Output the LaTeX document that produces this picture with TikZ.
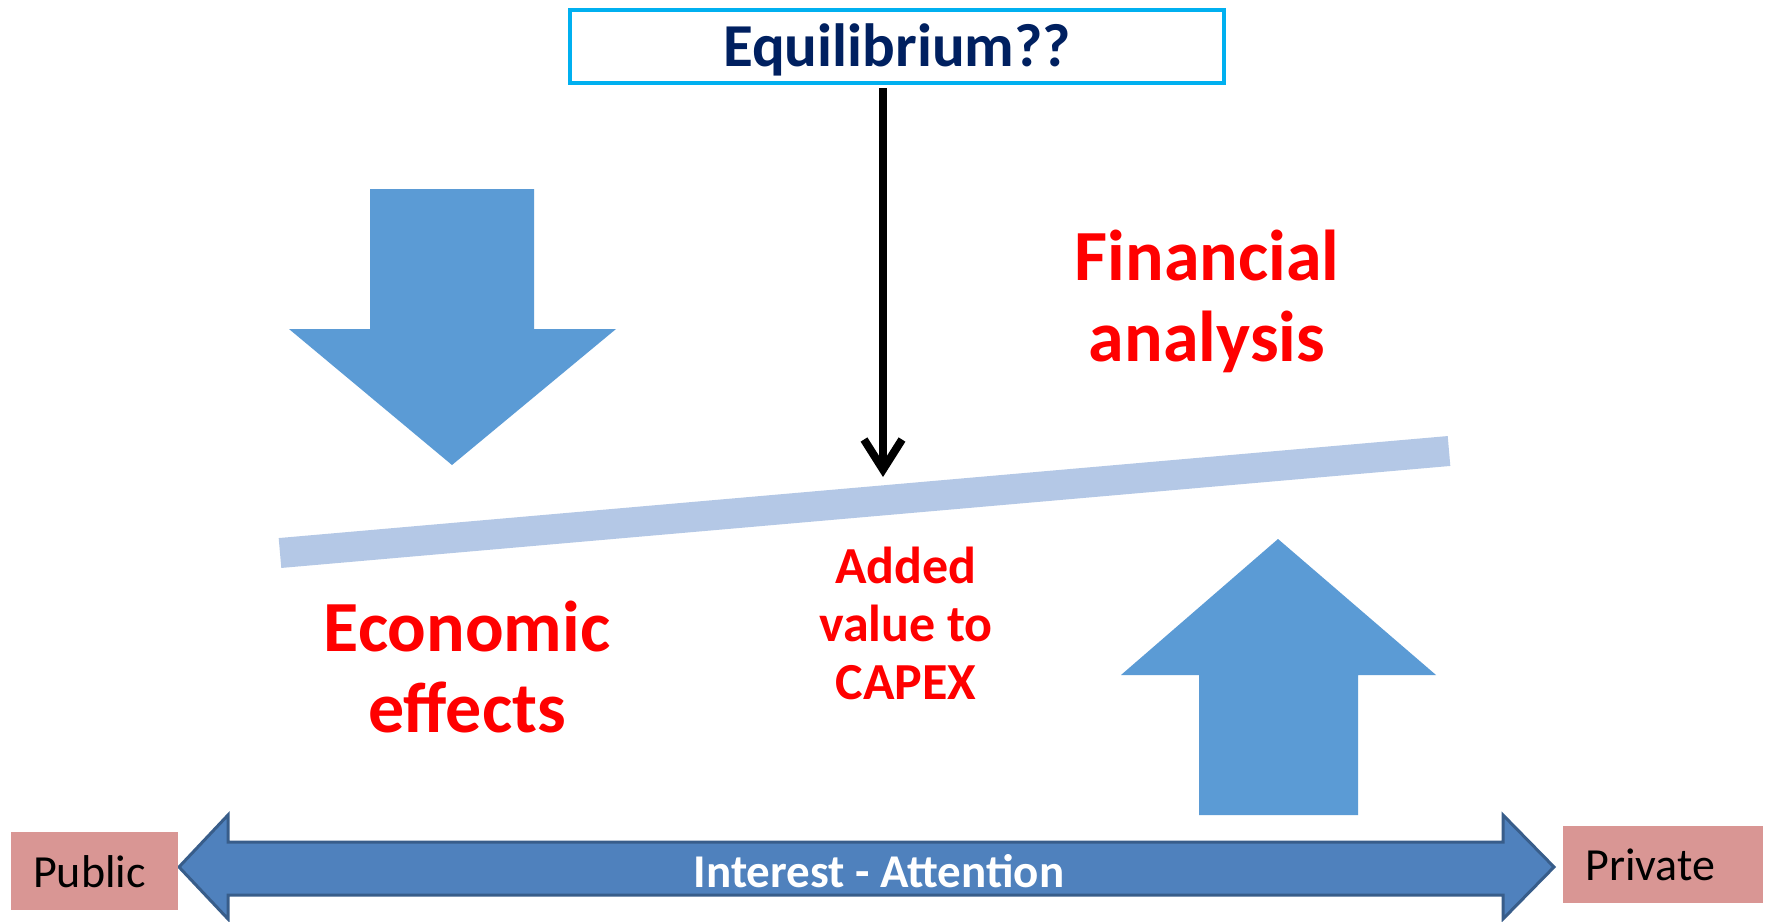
\documentclass[tikz,border=0pt]{standalone}
\usepackage{fontspec}
\setmainfont{Carlito}
\usetikzlibrary{arrows.meta}
\definecolor{blockblue}{HTML}{5B9BD5}
\definecolor{beamblue}{HTML}{B4C8E6}
\definecolor{barfill}{HTML}{4F81BD}
\definecolor{barline}{HTML}{385D8A}
\definecolor{sidepink}{HTML}{D99694}
\definecolor{eqcyan}{HTML}{00B0F0}
\definecolor{eqnavy}{HTML}{002060}
\definecolor{redtext}{HTML}{FF0000}
\tikzset{
  blockarrow/.style={fill=blockblue, draw=none},
  beam/.style={draw=beamblue, line width=30pt, line cap=butt},
  bigred/.style={text=redtext, font=\fontsize{72}{81}\selectfont\bfseries, align=center, inner sep=0pt},
  midred/.style={text=redtext, font=\fontsize{52}{58}\selectfont\bfseries, align=center, inner sep=0pt},
  sidebox/.style={fill=sidepink, draw=none, font=\fontsize{46}{50}\selectfont, text=black, align=left, inner xsep=22pt, inner ysep=0pt, text height=32pt, text depth=0pt},
  eqbox/.style={draw=eqcyan, line width=4pt, fill=white, text=eqnavy, font=\fontsize{61}{66}\selectfont\bfseries, minimum width=654pt, minimum height=73pt, inner sep=0pt, text height=39pt, text depth=0pt, outer sep=0pt},
  bartext/.style={text=white, font=\fontsize{47}{50}\selectfont\bfseries, inner sep=0pt},
  pointer/.style={draw=black, line width=8pt, -{Straight Barb[length=30pt,width=38pt]}},
}
\begin{document}
\begin{tikzpicture}[x=1pt,y=-1pt]
\useasboundingbox (0,0) rectangle (1771,921);
\fill[white] (0,0) rectangle (1771,921);

% down arrow (economic effects)
\fill[blockarrow] (370,189) -- (534,189) -- (534,329) -- (616,329) -- (452,465) -- (289,329) -- (370,329) -- cycle;
% up arrow (financial analysis)
\fill[blockarrow] (1199,815) -- (1358,815) -- (1358,675) -- (1436,675) -- (1278,539) -- (1121,675) -- (1199,675) -- cycle;

% beam
\draw[beam] (280,553) -- (1449,451);

% equilibrium box
\node[eqbox] (eq) at (897,46.5) {Equilibrium??};
\coordinate (pivot) at (883,477);
\draw[pointer, shorten <=5pt] (eq.south -| pivot) -- (pivot);

% texts (base anchor = baseline of the last line)
\node[bigred, anchor=base] (fin) at (1207,361) {Financial\\analysis};
\node[bigred, anchor=base] (eco) at (467,732) {Economic\\effects};
\node[midred, anchor=base] (added) at (906,699) {Added\\value to\\CAPEX};

% interest bar
\draw[fill=barfill, draw=barline, line width=3pt, line join=miter]
  (179,867) -- (228,815) -- (228,842) -- (1503,842) -- (1503,815) -- (1554,867)
  -- (1503,919) -- (1503,895) -- (228,895) -- (228,919) -- cycle;
\node[bartext, anchor=base] (interest) at (879,887) {Interest - Attention};

% side boxes
\node[sidebox, text width=123pt, minimum height=78pt, anchor=west] (public) at (11,871) {Public};
\node[sidebox, text width=156pt, minimum height=77pt, anchor=west] (private) at (1563,864.5) {Private};
\end{tikzpicture}
\end{document}
